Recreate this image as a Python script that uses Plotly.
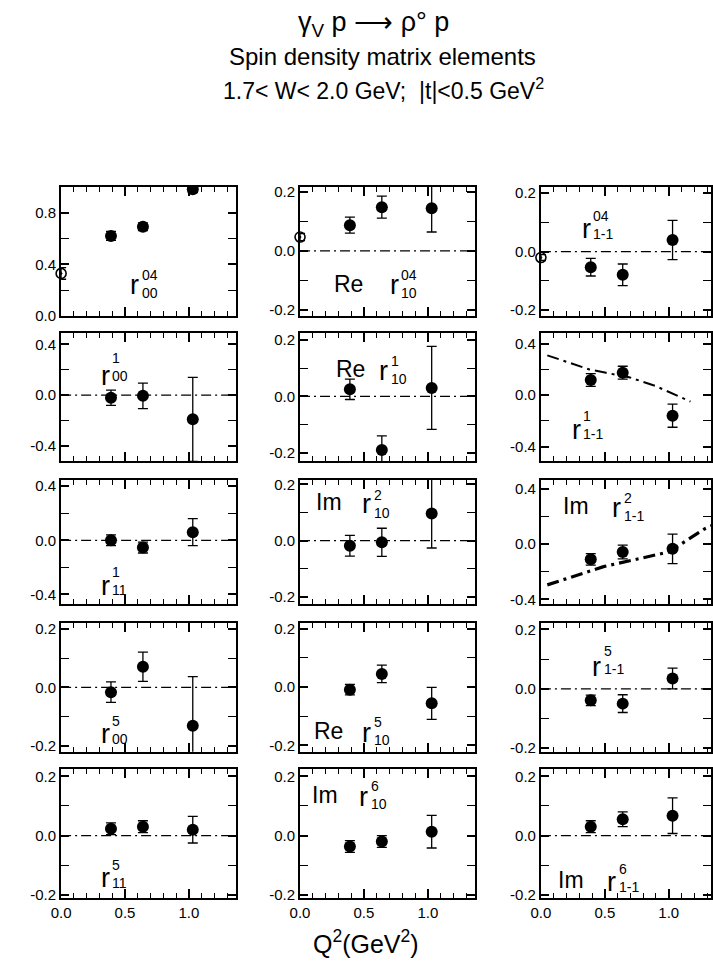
import plotly.graph_objects as go

W, H = 713, 973

# ---------------- data ----------------
Q2 = [0.39, 0.64, 1.03]          # electroproduction Q^2 bins (GeV^2)
Q2_photo = [0.0]                 # photoproduction point

# row 1
r00_04 = [0.62, 0.69, 0.98]
r00_04_err = [0.035, 0.03, 0.025]
r00_04_photo = [0.33]
r00_04_photo_err = [0.045]

re_r10_04 = [0.087, 0.148, 0.144]
re_r10_04_err = [0.027, 0.037, 0.08]
re_r10_04_photo = [0.047]
re_r10_04_photo_err = [0.012]

r1m1_04 = [-0.053, -0.079, 0.04]
r1m1_04_err = [0.03, 0.037, 0.067]
r1m1_04_photo = [-0.02]
r1m1_04_photo_err = [0.01]

# row 2
r00_1 = [-0.02, -0.005, -0.19]
r00_1_err = [0.06, 0.1, 0.33]

re_r10_1 = [0.025, -0.19, 0.03]
re_r10_1_err = [0.036, 0.05, 0.147]

r1m1_1 = [0.118, 0.175, -0.16]
r1m1_1_err = [0.05, 0.05, 0.09]
r1m1_1_model_q2 = [0.05, 0.2, 0.38, 0.51, 0.69, 0.9, 1.17]
r1m1_1_model = [0.31, 0.26, 0.2, 0.174, 0.14, 0.07, -0.05]

# row 3
r11_1 = [0.0, -0.054, 0.06]
r11_1_err = [0.04, 0.04, 0.1]

im_r10_2 = [-0.018, -0.006, 0.096]
im_r10_2_err = [0.037, 0.05, 0.122]

im_r1m1_2 = [-0.11, -0.057, -0.034]
im_r1m1_2_err = [0.042, 0.05, 0.107]
im_r1m1_2_model_q2 = [0.05, 0.49, 1.0, 1.28, 1.34]
im_r1m1_2_model = [-0.295, -0.163, -0.057, 0.11, 0.135]

# row 4
r00_5 = [-0.016, 0.071, -0.131]
r00_5_err = [0.035, 0.05, 0.168]

re_r10_5 = [-0.009, 0.045, -0.056]
re_r10_5_err = [0.018, 0.03, 0.055]

r1m1_5 = [-0.039, -0.05, 0.035]
r1m1_5_err = [0.018, 0.03, 0.035]

# row 5
r11_5 = [0.023, 0.03, 0.02]
r11_5_err = [0.02, 0.02, 0.045]

im_r10_6 = [-0.037, -0.02, 0.013]
im_r10_6_err = [0.02, 0.02, 0.055]

im_r1m1_6 = [0.03, 0.055, 0.067]
im_r1m1_6_err = [0.02, 0.025, 0.06]

x_tickvals = [0.0, 0.5, 1.0]
x_ticktext = ["0.0", "0.5", "1.0"]

# ---------------- layout geometry (pixels) ----------------
col_px = [(52, 230), (295, 473), (540, 713)]
row_px = [(185, 316), (333, 463), (482, 607), (627, 757), (775, 905)]
px_per_unit_x = 130.0

FONT = "Liberation Sans"

# panel table: (row, col, y, err, photo_y, photo_err, yrange, ytickvals, yminor, zero_line, model_x, model_y, model_width)
panels = [
    (0, 0, r00_04, r00_04_err, r00_04_photo, r00_04_photo_err, [0.0, 1.0], [0.0, 0.4, 0.8], 0.2, False, None, None, 0),
    (0, 1, re_r10_04, re_r10_04_err, re_r10_04_photo, re_r10_04_photo_err, [-0.22, 0.217], [-0.2, 0.0, 0.2], 0.1, True, None, None, 0),
    (0, 2, r1m1_04, r1m1_04_err, r1m1_04_photo, r1m1_04_photo_err, [-0.22, 0.222], [-0.2, 0.0, 0.2], 0.1, True, None, None, 0),
    (1, 0, r00_1, r00_1_err, None, None, [-0.52, 0.49], [-0.4, 0.0, 0.4], 0.2, True, None, None, 0),
    (1, 1, re_r10_1, re_r10_1_err, None, None, [-0.23, 0.225], [-0.2, 0.0, 0.2], 0.1, True, None, None, 0),
    (1, 2, r1m1_1, r1m1_1_err, None, None, [-0.515, 0.485], [-0.4, 0.0, 0.4], 0.2, False, r1m1_1_model_q2, r1m1_1_model, 2),
    (2, 0, r11_1, r11_1_err, None, None, [-0.467, 0.445], [-0.4, 0.0, 0.4], 0.2, True, None, None, 0),
    (2, 1, im_r10_2, im_r10_2_err, None, None, [-0.223, 0.215], [-0.2, 0.0, 0.2], 0.1, True, None, None, 0),
    (2, 2, im_r1m1_2, im_r1m1_2_err, None, None, [-0.43, 0.464], [-0.4, 0.0, 0.4], 0.2, False, im_r1m1_2_model_q2, im_r1m1_2_model, 3.2),
    (3, 0, r00_5, r00_5_err, None, None, [-0.22, 0.22], [-0.2, 0.0, 0.2], 0.1, True, None, None, 0),
    (3, 1, re_r10_5, re_r10_5_err, None, None, [-0.222, 0.219], [-0.2, 0.0, 0.2], 0.1, False, None, None, 0),
    (3, 2, r1m1_5, r1m1_5_err, None, None, [-0.212, 0.221], [-0.2, 0.0, 0.2], 0.1, True, None, None, 0),
    (4, 0, r11_5, r11_5_err, None, None, [-0.21, 0.223], [-0.2, 0.0, 0.2], 0.1, True, None, None, 0),
    (4, 1, im_r10_6, im_r10_6_err, None, None, [-0.21, 0.223], [-0.2, 0.0, 0.2], 0.1, False, None, None, 0),
    (4, 2, im_r1m1_6, im_r1m1_6_err, None, None, [-0.21, 0.223], [-0.2, 0.0, 0.2], 0.1, True, None, None, 0),
]

# labels: (prefix, prefix_px, r_px, sup, sub, index_center_y)
labels = [
    (None, None, (127, 285), "04", "00", 283),
    ("Re", (344, 283), (391, 285), "04", "10", 283),
    (None, None, (586, 228), "04", "1-1", 224),
    (None, None, (97, 377), "1", "00", 368),
    ("Re", (346, 370), (380, 372), "1", "10", 371),
    (None, None, (576, 431), "1", "1-1", 426),
    (None, None, (97, 589), "1", "11", 584),
    ("Im", (324, 504), (363, 506), "2", "10", 506),
    ("Im", (576, 508), (617, 510), "2", "1-1", 509),
    (None, None, (97, 739), "5", "00", 735),
    ("Re", (324, 736), (363, 738), "5", "10", 736),
    (None, None, (597, 671), "5", "1-1", 664),
    (None, None, (97, 885), "5", "11", 881),
    ("Im", (320, 801), (360, 803), "6", "10", 801),
    ("Im", (571, 887), (612, 889), "6", "1-1", 885),
]


def px2paper(p):
    return p[0] / W, 1 - p[1] / H


fig = go.Figure()
layout = dict(
    width=W, height=H, margin=dict(l=0, r=0, t=0, b=0),
    paper_bgcolor="white", plot_bgcolor="white", showlegend=False,
    font=dict(family=FONT, color="black", size=15),
)
shapes = []
annotations = []

for i, (row, col, yv, ye, py, pe, yr, ytv, ymin, zl, mx, my, mw) in enumerate(panels):
    n = i + 1
    xa = "x" if n == 1 else f"x{n}"
    ya = "y" if n == 1 else f"y{n}"
    c0, c1 = col_px[col]
    r0, r1 = row_px[row]
    xmax = (c1 - c0) / px_per_unit_x
    layout["xaxis" if n == 1 else f"xaxis{n}"] = dict(
        domain=[c0 / W, c1 / W], anchor=ya, range=[0, xmax],
        showgrid=False, zeroline=False, showline=True, linewidth=2, linecolor="black",
        mirror="allticks", ticks="inside", ticklen=9, tickwidth=1.5, tickcolor="black",
        tickvals=x_tickvals, ticktext=x_ticktext, showticklabels=(row == 4),
        tickfont=dict(size=15, family=FONT),
        minor=dict(dtick=0.1, tick0=0, ticks="inside", ticklen=5, tickwidth=1.2, tickcolor="black"),
        fixedrange=True,
    )
    layout["yaxis" if n == 1 else f"yaxis{n}"] = dict(
        domain=[1 - r1 / H, 1 - r0 / H], anchor=xa, range=yr,
        showgrid=False, zeroline=False, showline=True, linewidth=2, linecolor="black",
        mirror="allticks", ticks="inside", ticklen=8, tickwidth=1.5, tickcolor="black",
        tickvals=ytv, ticktext=[f"{v:.1f}".replace("-0.0", "0.0") for v in ytv],
        tickfont=dict(size=15, family=FONT),
        minor=dict(dtick=ymin, tick0=0, ticks="inside", ticklen=8, tickwidth=1.2, tickcolor="black"),
        fixedrange=True,
    )
    if zl:
        shapes.append(dict(type="line", xref=f"{xa} domain", yref=ya, x0=0, x1=1, y0=0, y1=0,
                           line=dict(color="black", width=1.2, dash="10px,4px,2px,4px"), layer="below"))
    if mx is not None:
        fig.add_trace(go.Scatter(x=mx, y=my, xaxis=xa, yaxis=ya, mode="lines",
                                 line=dict(color="black", width=mw, dash="12px,5px,3px,5px"),
                                 hoverinfo="skip"))
    fig.add_trace(go.Scatter(
        x=Q2, y=yv, xaxis=xa, yaxis=ya, mode="markers",
        marker=dict(color="black", size=12, symbol="circle"),
        error_y=dict(type="data", array=ye, visible=True, color="black", thickness=1.3, width=5),
    ))
    if py is not None:
        fig.add_trace(go.Scatter(
            x=Q2_photo, y=py, xaxis=xa, yaxis=ya, mode="markers", cliponaxis=False,
            marker=dict(color="black", size=10, symbol="circle-open-dot", line=dict(color="black", width=1.6)),
            error_y=dict(type="data", array=pe, visible=True, color="black", thickness=1.3, width=5),
        ))

# panel labels
for prefix, ppx, rpx, sup, sub, iy in labels:
    if prefix:
        x, y = px2paper(ppx)
        annotations.append(dict(text=prefix, x=x, y=y, xref="paper", yref="paper", showarrow=False,
                                xanchor="center", yanchor="middle", font=dict(size=23, family=FONT)))
    x, y = px2paper(rpx)
    annotations.append(dict(text="r", x=x, y=y, xref="paper", yref="paper", showarrow=False,
                            xanchor="center", yanchor="middle", borderpad=0,
                            font=dict(size=27, family=FONT)))
    x, y = px2paper((rpx[0] + 6, iy))
    annotations.append(dict(text=f"{sup}<br>{sub}", x=x, y=y, xref="paper", yref="paper",
                            showarrow=False, xanchor="left", yanchor="middle", align="left",
                            borderpad=0, font=dict(size=14, family=FONT)))

# titles
title_lines = [
    ("γ<sub>V</sub> p ⟶ ρ° p", (370, 20), 27),
    ("Spin density matrix elements", (379, 53), 24),
    ("1.7< W< 2.0 GeV;  |t|<0.5 GeV<sup>2</sup>", (380, 86), 23),
]
for t, p, s in title_lines:
    x, y = px2paper(p)
    annotations.append(dict(text=t, x=x, y=y, xref="paper", yref="paper", showarrow=False,
                            xanchor="center", yanchor="middle", font=dict(size=s, family=FONT)))
x, y = px2paper((362, 950))
annotations.append(dict(text="Q<sup>2</sup>(GeV<sup>2</sup>)", x=x, y=y, xref="paper", yref="paper",
                        showarrow=False, xanchor="center", yanchor="middle",
                        font=dict(size=25, family=FONT)))

layout["shapes"] = shapes
layout["annotations"] = annotations
fig.update_layout(**layout)
fig.write_html("out.html")
